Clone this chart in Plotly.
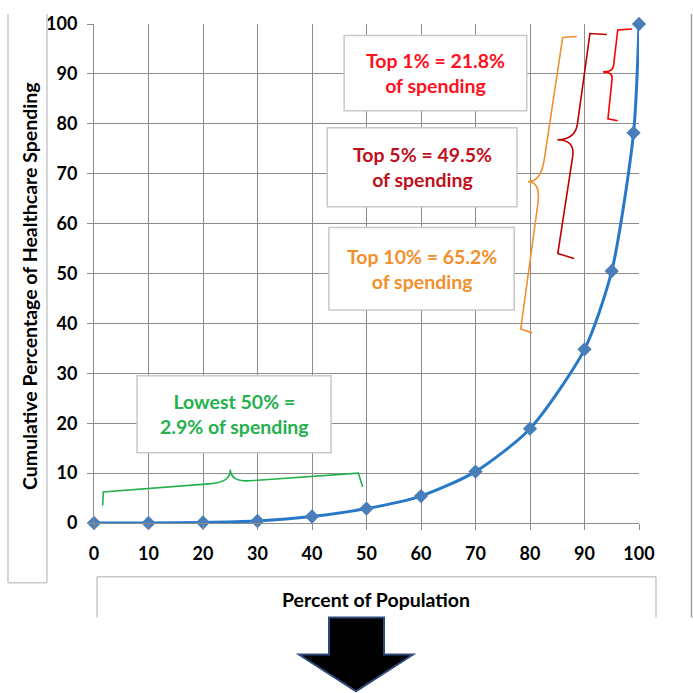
import plotly.graph_objects as go

# ---------------- data ----------------
population_pct = [0, 10, 20, 30, 40, 50, 60, 70, 80, 90, 95, 99, 100]
cum_spending_pct = [0, 0, 0.1, 0.4, 1.3, 2.9, 5.4, 10.3, 18.9, 34.8, 50.5, 78.2, 100]
tick_values = [0, 10, 20, 30, 40, 50, 60, 70, 80, 90, 100]

label_texts = ["Top 1% = 21.8%<br>of spending",
               "Top 5% = 49.5%<br>of spending",
               "Top 10% = 65.2%<br>of spending",
               "Lowest 50% =<br>2.9% of spending"]

# ---------------- layout geometry (pixels) ----------------
W = H = 693
L, R, T, B = 94, 54, 22, 170
PW = W - L - R
PH = H - T - B
FONT = "Lato"


def px_x(px):
    return (px - L) / PW


def px_y(py):
    return (H - B - py) / PH


fig = go.Figure()
fig.add_trace(go.Scatter(
    x=population_pct, y=cum_spending_pct, mode="lines+markers",
    line=dict(color="#2878C8", width=3, shape="spline", smoothing=0.7),
    marker=dict(symbol="diamond", size=11, color="#4A7EBB"),
    cliponaxis=False, hoverinfo="x+y", showlegend=False))

shapes = []

# label boxes (data coordinates)
boxes = [
    (45.9, 79.4, 82.6, 97.7, "#FF1020"),
    (42.8, 77.6, 63.4, 79.2, "#C0101C"),
    (43.1, 77.1, 42.7, 59.2, "#F2902C"),
    (7.9, 43.5, 14.1, 29.5, "#26B04E"),
]
annotations = []
for (x0, x1, y0, y1, col), txt in zip(boxes, label_texts):
    shapes.append(dict(type="rect", xref="x", yref="y", x0=x0, x1=x1, y0=y0, y1=y1,
                       fillcolor="white", line=dict(color="#C8C8C8", width=1.5), layer="above"))
    annotations.append(dict(x=(x0 + x1) / 2, y=(y0 + y1) / 2, xref="x", yref="y",
                            xanchor="center", yanchor="middle",
                            text="<b>" + txt + "</b>", showarrow=False,
                            font=dict(family=FONT, size=19.5, color=col)))


def brace(pts, color):
    e1, c1, tb, tip, c2, e2 = pts
    a = (c1[0] + (tb[0] - c1[0]) * 0.85, c1[1] + (tb[1] - c1[1]) * 0.85)
    b = (tb[0] + (c2[0] - tb[0]) * 0.15, tb[1] + (c2[1] - tb[1]) * 0.15)
    p = (f"M{e1[0]},{e1[1]} L{c1[0]},{c1[1]} L{a[0]},{a[1]} "
         f"Q{tb[0]},{tb[1]} {tip[0]},{tip[1]} Q{tb[0]},{tb[1]} {b[0]},{b[1]} "
         f"L{c2[0]},{c2[1]} L{e2[0]},{e2[1]}")
    return dict(type="path", xref="x", yref="y", path=p,
                line=dict(color=color, width=1.6), layer="above")


shapes.append(brace([(98.7, 99.0), (96.1, 98.8), (95.2, 90.4), (93.4, 90.4), (94.3, 81.0), (96.1, 80.6)], "#FF0000"))
shapes.append(brace([(94.1, 97.9), (91.0, 98.1), (88.3, 76.8), (85.0, 76.8), (85.1, 54.0), (88.1, 53.0)], "#C00000"))
shapes.append(brace([(88.6, 97.5), (86.0, 97.3), (82.0, 68.4), (79.6, 68.4), (78.3, 38.9), (80.4, 38.1)], "#F0902E"))
shapes.append(brace([(1.6, 3.5), (1.7, 6.2), (25.1, 8.2), (25.0, 10.7), (48.5, 10.0), (49.3, 7.2)], "#22B14C"))

# outer frame pieces (paper coords from pixels)
frame_col = "#C8C8C8"


def seg(p0, p1, col=frame_col, w=1.5):
    return dict(type="line", xref="paper", yref="paper",
                x0=px_x(p0[0]), y0=px_y(p0[1]), x1=px_x(p1[0]), y1=px_y(p1[1]),
                line=dict(color=col, width=w), layer="above")


shapes += [
    seg((8, 12), (8, 583)), seg((8, 583), (47, 583)), seg((47, 12), (47, 583)),
    seg((691.5, 12), (691.5, 618), "#A0A0A0"),
    seg((97, 618), (97, 577)), seg((97, 577), (656, 577)), seg((656, 577), (656, 618)),
]

# big down arrow
arrow_pts = [(329, 618), (384, 618), (384, 655), (413, 655), (356, 692), (299, 655), (329, 655)]
path = "M" + " L".join(f"{px_x(x)},{px_y(y)}" for x, y in arrow_pts) + " Z"
shapes.append(dict(type="path", xref="paper", yref="paper", path=path,
                   fillcolor="black", line=dict(color="#2F4B7C", width=2), layer="above"))

# axis titles
annotations.append(dict(x=px_x(376), y=px_y(600), xref="paper", yref="paper",
                        xanchor="center", yanchor="middle",
                        text="<b>Percent of Population</b>", showarrow=False,
                        font=dict(family=FONT, size=19.5, color="black")))
annotations.append(dict(x=px_x(30), y=px_y(285), xref="paper", yref="paper",
                        xanchor="center", yanchor="middle",
                        text="<b>Cumulative Percentage of Healthcare Spending</b>",
                        textangle=-90, showarrow=False,
                        font=dict(family=FONT, size=19.5, color="black")))

axis_common = dict(
    range=[0, 100], tickmode="array", tickvals=tick_values,
    ticktext=[f"<b>{v}</b>" for v in tick_values],
    showgrid=True, gridcolor="#8C8C8C", gridwidth=1,
    showline=True, linecolor="#8C8C8C", linewidth=1,
    ticks="outside", ticklen=6, tickcolor="#8C8C8C",
    tickfont=dict(family=FONT, size=18, color="black"),
    zeroline=False, fixedrange=True,
)

fig.update_layout(
    width=W, height=H,
    margin=dict(l=L, r=R, t=T, b=B),
    paper_bgcolor="white", plot_bgcolor="white",
    xaxis=dict(**axis_common, ticklabelstandoff=8),
    yaxis=dict(**axis_common, ticklabelstandoff=6),
    shapes=shapes, annotations=annotations,
    showlegend=False,
)

fig.write_html("out.html", config={"displayModeBar": False},
               post_script="document.body.style.margin='0';")
